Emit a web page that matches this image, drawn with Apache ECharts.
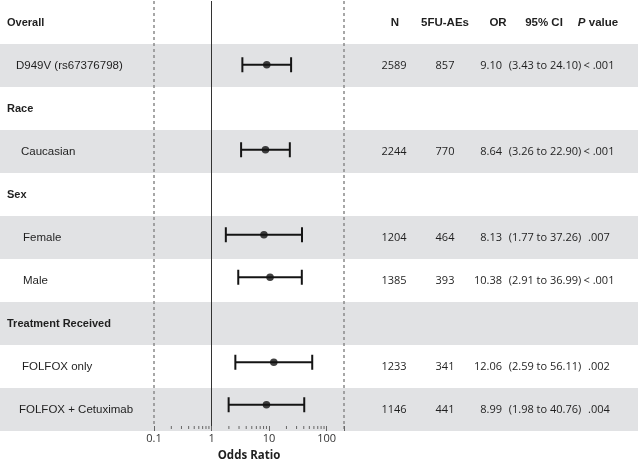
<!DOCTYPE html>
<html><head><meta charset="utf-8">
<script src="https://cdn.jsdelivr.net/npm/echarts@6/dist/echarts.min.js"></script>
<style>html,body{margin:0;padding:0;background:#fff}#c{width:640px;height:467px}</style>
</head><body><div id="c"></div>
<script>
// ---- data ----
const rowLabels = ['Overall','D949V (rs67376798)','Race','Caucasian','Sex','Female','Male','Treatment Received','FOLFOX only','FOLFOX + Cetuximab'];
const isHeader  = [true,false,true,false,true,false,false,true,false,false];
const shaded    = [0,1,0,1,0,1,0,1,0,1];
const orValues  = [null,9.10,null,8.64,null,8.13,10.38,null,12.06,8.99];
const ciLow     = [null,3.43,null,3.26,null,1.77,2.91,null,2.59,1.98];
const ciHigh    = [null,24.10,null,22.90,null,37.26,36.99,null,56.11,40.76];
const ciText    = ['','(3.43 to 24.10)','','(3.26 to 22.90)','','(1.77 to 37.26)','(2.91 to 36.99)','','(2.59 to 56.11)','(1.98 to 40.76)'];
const nValues   = ['','2589','','2244','','1204','1385','','1233','1146'];
const aeValues  = ['','857','','770','','464','393','','341','441'];
const orText    = ['','9.10','','8.64','','8.13','10.38','','12.06','8.99'];
const pValues   = ['','< .001','','< .001','','.007','< .001','','.002','.004'];
const colHeaders = ['N','5FU-AEs','OR','95% CI','P value'];
const xTickLabels = [0.1,1,10,100];
const xMin = 0.1, xMax = 200;
const refLines = [0.1, 1, 200];
const minorTicks = [0.2,0.3,0.4,0.5,0.6,0.7,0.8,0.9,2,3,4,5,6,7,8,9,20,30,40,50,60,70,80,90,200];

// ---- layout / styles (not data) ----
const labelIndent = [7,16,7,21,7,23,23,7,22,19];
const TXT = '#1f1f1f';
const chart = echarts.init(document.getElementById('c'), null, {renderer:'canvas'});

const cis = [], pts = [];
rowLabels.forEach((r,i)=>{ if(orValues[i]!=null){ cis.push([i, ciLow[i], ciHigh[i]]); pts.push([orValues[i], i]); } });

chart.setOption({
  animation:false,
  grid:[
    {left:0, right:2, top:1, bottom:36},
    {left:154, right:296, top:1, bottom:36}
  ],
  xAxis:[
    {gridIndex:0, type:'value', min:0, max:1, show:false},
    {gridIndex:1, type:'log', logBase:10, min:xMin, max:xMax,
     axisLine:{show:true, lineStyle:{color:'#666', width:1}},
     axisTick:{show:true, length:5, lineStyle:{color:'#666'}},
     splitLine:{show:false},
     axisLabel:{color:'#333', fontFamily:'Open Sans', fontSize:11, margin:7,
       formatter:(v)=>{ const m = xTickLabels.find(t=>Math.abs(t-v)/t<1e-6); return m!==undefined ? String(m) : ''; }},
     name:'Odds Ratio', nameLocation:'middle', nameGap:24,
     nameTextStyle:{color:TXT, fontFamily:'Open Sans', fontWeight:'bold', fontSize:11.5}
    }
  ],
  yAxis:[
    {gridIndex:0, type:'category', data:rowLabels, inverse:true, show:false},
    {gridIndex:1, type:'category', data:rowLabels, inverse:true, show:false}
  ],
  series:[
    {type:'bar', xAxisIndex:0, yAxisIndex:0, silent:true, barWidth:'100%',
     itemStyle:{color:'#e1e2e4'}, data:shaded.map(s=>s?1:'-'), z:0},
    {type:'custom', xAxisIndex:1, yAxisIndex:1, silent:true, z:2,
     data:minorTicks.map(v=>[v]),
     encode:{x:0},
     renderItem:(params, api)=>{
       const cs = params.coordSys;
       const x = api.coord([api.value(0), 0])[0];
       const yb = cs.y + cs.height;
       return {type:'line', shape:{x1:x, y1:yb, x2:x, y2:yb+3}, style:{stroke:'#666', lineWidth:1}};
     }},
    {type:'custom', xAxisIndex:1, yAxisIndex:1, silent:true, z:3,
     data:cis, encode:{x:[1,2], y:0},
     renderItem:(params, api)=>{
       const row = api.value(0);
       const a = api.coord([api.value(1), row]);
       const b = api.coord([api.value(2), row]);
       const cap = 7.5, st = {stroke:'#141414', lineWidth:2};
       return {type:'group', children:[
         {type:'line', shape:{x1:a[0], y1:a[1], x2:b[0], y2:b[1]}, style:st},
         {type:'line', shape:{x1:a[0], y1:a[1]-cap, x2:a[0], y2:a[1]+cap}, style:st},
         {type:'line', shape:{x1:b[0], y1:b[1]-cap, x2:b[0], y2:b[1]+cap}, style:st}
       ]};
     }},
    {type:'scatter', xAxisIndex:1, yAxisIndex:1, silent:true, z:4,
     symbol:'circle', symbolSize:7.5, itemStyle:{color:'#111'}, data:pts,
     markLine:{silent:true, symbol:['none','none'], label:{show:false},
       data:refLines.map(v=>({xAxis:v, lineStyle: v===1 ? {color:'#333', type:'solid', width:1} : {color:'#8a8a8a', type:[3,3], width:1.5}}))}
    }
  ]
});

// ---- table texts ----
const g = [];
const yOf = i => chart.convertToPixel({yAxisIndex:0}, i);
const numFont = {fontFamily:'Open Sans', fontSize:11, fill:TXT};
const T = (x, y, style) => ({type:'text', x:x, y:y, z:100, silent:true, style:style});
rowLabels.forEach((lab,i)=>{
  const y = yOf(i);
  g.push(T(labelIndent[i], y, {text:lab, fill:TXT, fontFamily:'Liberation Sans, Arial',
    fontSize: isHeader[i]?11:11.5, fontWeight: isHeader[i]?'bold':'normal', verticalAlign:'middle', align:'left'}));
  if(nValues[i]){
    g.push(T(394, y, Object.assign({text:nValues[i], align:'center', verticalAlign:'middle'}, numFont)));
    g.push(T(445, y, Object.assign({text:aeValues[i], align:'center', verticalAlign:'middle'}, numFont)));
    g.push(T(502, y, Object.assign({text:orText[i], align:'right', verticalAlign:'middle'}, numFont)));
    g.push(T(545, y, Object.assign({text:ciText[i], align:'center', verticalAlign:'middle'}, numFont)));
    g.push(T(599, y, Object.assign({text:pValues[i], align:'center', verticalAlign:'middle'}, numFont)));
  }
});
const hy = yOf(0);
const hf = {fill:TXT, fontFamily:'Liberation Sans, Arial', fontSize:11.5, fontWeight:'bold', verticalAlign:'middle', align:'center'};
g.push(T(395, hy, Object.assign({}, hf, {text:colHeaders[0]})));
g.push(T(445, hy, Object.assign({}, hf, {text:colHeaders[1]})));
g.push(T(498, hy, Object.assign({}, hf, {text:colHeaders[2]})));
g.push(T(544, hy, Object.assign({}, hf, {text:colHeaders[3]})));
g.push(T(598, hy, {text:'{i|P} value', fill:TXT, fontFamily:'Liberation Sans, Arial', fontSize:11.5, fontWeight:'bold', verticalAlign:'middle', align:'center',
  rich:{i:{fontStyle:'italic', fontWeight:'bold', fontFamily:'Liberation Sans, Arial', fontSize:11.5, fill:TXT}}}));
chart.setOption({graphic:{elements:g}});
</script></body></html>
